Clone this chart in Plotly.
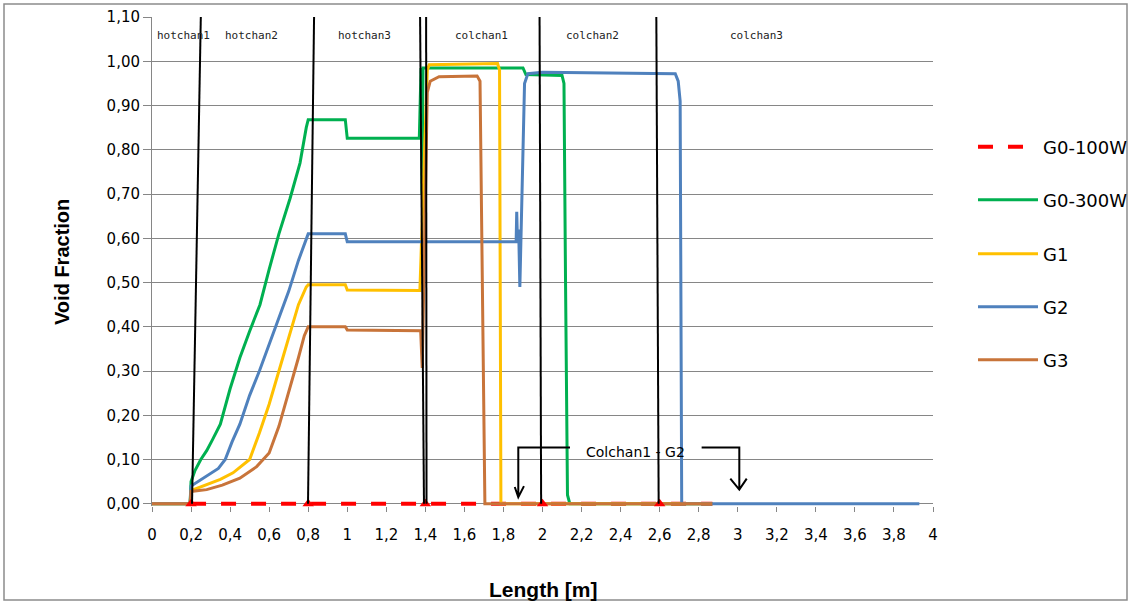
import plotly.graph_objects as go

# ---------------- data ----------------
g0_100_x = [0.2, 2.87]
g0_100_y = [0.0, 0.0]

g0_300_x = [0.0, 0.195, 0.2, 0.22, 0.25, 0.28, 0.31, 0.35, 0.4, 0.45, 0.5, 0.553, 0.6, 0.65, 0.707, 0.758,
            0.79, 0.8, 0.99, 1.0, 1.369, 1.378, 1.383, 1.388, 1.9, 1.915, 2.1, 2.11, 2.118, 2.128, 2.14, 2.87]
g0_300_y = [0.0, 0.0, 0.05, 0.075, 0.10, 0.12, 0.145, 0.18, 0.26, 0.33, 0.39, 0.45, 0.53, 0.61, 0.69, 0.77,
            0.85, 0.868, 0.868, 0.826, 0.826, 0.985, 0.70, 0.985, 0.985, 0.97, 0.968, 0.95, 0.5, 0.02, 0.0, 0.0]

g1_x = [0.0, 0.195, 0.2, 0.28, 0.35, 0.415, 0.46, 0.5, 0.55, 0.6, 0.65, 0.7, 0.75, 0.79, 0.8, 0.99, 1.0,
        1.372, 1.374, 1.41, 1.42, 1.77, 1.78, 1.787, 2.87]
g1_y = [0.0, 0.0, 0.03, 0.043, 0.055, 0.07, 0.085, 0.10, 0.16, 0.225, 0.30, 0.375, 0.45, 0.49, 0.495, 0.495, 0.483,
        0.482, 0.506, 0.98, 0.992, 0.995, 0.98, 0.0, 0.0]

g2_x = [0.0, 0.195, 0.2, 0.25, 0.3, 0.34, 0.375, 0.41, 0.45, 0.5, 0.55, 0.6, 0.65, 0.7, 0.75, 0.79, 0.8, 0.99, 1.0,
        1.865, 1.868, 1.872, 1.878, 1.884, 1.89, 1.9, 1.908, 1.925, 2.0, 2.68, 2.695, 2.705, 2.713, 3.93]
g2_y = [0.0, 0.0, 0.04, 0.055, 0.068, 0.08, 0.10, 0.14, 0.18, 0.245, 0.30, 0.36, 0.42, 0.48, 0.55, 0.60, 0.61, 0.61, 0.592,
        0.592, 0.66, 0.59, 0.62, 0.49, 0.60, 0.85, 0.95, 0.972, 0.975, 0.972, 0.955, 0.91, 0.0, 0.0]

g3_x = [0.0, 0.195, 0.2, 0.28, 0.36, 0.45, 0.536, 0.6, 0.65, 0.7, 0.75, 0.78, 0.8, 0.99, 1.0,
        1.376, 1.384, 1.41, 1.425, 1.47, 1.665, 1.68, 1.705, 2.87]
g3_y = [0.0, 0.0, 0.028, 0.032, 0.042, 0.058, 0.084, 0.115, 0.175, 0.25, 0.33, 0.38, 0.40, 0.40, 0.393,
        0.391, 0.307, 0.93, 0.955, 0.965, 0.967, 0.955, 0.0, 0.0]

marker_x = [0.2, 0.8, 1.4, 2.0, 2.6]
marker_y = [0.0, 0.0, 0.0, 0.0, 0.0]

x_tick_vals = [0, 0.2, 0.4, 0.6, 0.8, 1, 1.2, 1.4, 1.6, 1.8, 2, 2.2, 2.4, 2.6, 2.8, 3, 3.2, 3.4, 3.6, 3.8, 4]
x_tick_text = ["0", "0,2", "0,4", "0,6", "0,8", "1", "1,2", "1,4", "1,6", "1,8", "2", "2,2", "2,4", "2,6",
               "2,8", "3", "3,2", "3,4", "3,6", "3,8", "4"]
y_tick_vals = [0, 0.1, 0.2, 0.3, 0.4, 0.5, 0.6, 0.7, 0.8, 0.9, 1.0, 1.1]
y_tick_text = ["0,00", "0,10", "0,20", "0,30", "0,40", "0,50", "0,60", "0,70", "0,80", "0,90", "1,00", "1,10"]

channel_labels = ["hotchan1", "hotchan2", "hotchan3", "colchan1", "colchan2", "colchan3"]
channel_label_x = [0.015, 0.365, 0.942, 1.540, 2.110, 2.952]

# channel boundary lines (top x, bottom x)
boundary_top_x = [0.250, 0.830, 1.373, 1.404, 1.985, 2.583]
boundary_bottom_x = [0.205, 0.799, 1.393, 1.406, 1.993, 2.595]

series_names = ["G0-100W", "G0-300W", "G1", "G2", "G3"]
series_colors = ["#FF0000", "#00B050", "#FFC000", "#4F81BD", "#C8743A"]

# ---------------- figure ----------------
fig = go.Figure()
all_x = [g0_100_x, g0_300_x, g1_x, g2_x, g3_x]
all_y = [g0_100_y, g0_300_y, g1_y, g2_y, g3_y]
legend_ids = ["legend", "legend2", "legend3", "legend4", "legend5"]
for i, name in enumerate(series_names):
    line = dict(color=series_colors[i], width=3)
    if i == 0:
        line = dict(color=series_colors[i], width=4, dash="15px,15px")
    fig.add_trace(go.Scatter(x=all_x[i], y=all_y[i], mode="lines", name=name, line=line,
                             legend=legend_ids[i], hoverinfo="skip"))

fig.add_trace(go.Scatter(x=marker_x, y=marker_y, mode="markers", showlegend=False,
                         marker=dict(symbol="triangle-up", color="#FF0000", size=10,
                                     line=dict(width=0)),
                         cliponaxis=False, hoverinfo="skip"))

shapes = []
for xt, xb in zip(boundary_top_x, boundary_bottom_x):
    shapes.append(dict(type="line", xref="x", yref="y", x0=xb, y0=0, x1=xt, y1=1.1,
                       line=dict(color="black", width=2), layer="above"))

# bracket for "Colchan1 - G2"
bracket_left = "M 2.141,0.127 L 1.876,0.127 L 1.876,0.015 M 1.858,0.038 L 1.876,0.015 L 1.905,0.040"
bracket_right = "M 2.815,0.127 L 3.008,0.127 L 3.008,0.032 M 2.962,0.057 L 3.008,0.032 L 3.046,0.057"
for p in (bracket_left, bracket_right):
    shapes.append(dict(type="path", xref="x", yref="y", path=p,
                       line=dict(color="black", width=2), layer="above"))

# outer frame
PLOT_L, PLOT_W, PLOT_T, PLOT_H = 152, 781, 17, 489
def px_x(p):
    return (p - PLOT_L) / PLOT_W
def px_y(p):
    return (PLOT_T + PLOT_H - p) / PLOT_H

shapes.append(dict(type="rect", xref="paper", yref="paper",
                   x0=px_x(4), x1=px_x(1127), y0=px_y(600), y1=px_y(4),
                   line=dict(color="#8C8C8C", width=1.5), fillcolor="rgba(0,0,0,0)", layer="below"))

annotations = []
for txt, xl in zip(channel_labels, channel_label_x):
    annotations.append(dict(text=txt, x=xl, y=1.059, xref="x", yref="y", xanchor="left", yanchor="middle",
                            showarrow=False, font=dict(family="DejaVu Sans Mono", size=11, color="#222222")))
annotations.append(dict(text="Colchan1 - G2", x=2.478, y=0.117, xref="x", yref="y", showarrow=False,
                        xanchor="center", yanchor="middle",
                        font=dict(family="DejaVu Sans", size=14, color="black")))
annotations.append(dict(text="Void Fraction", x=px_x(62), y=px_y(262), xref="paper", yref="paper",
                        textangle=-90, showarrow=False, xanchor="center", yanchor="middle",
                        font=dict(family="Liberation Sans", size=20, color="black", weight="bold")))
annotations.append(dict(text="Length [m]", x=px_x(543), y=px_y(589), xref="paper", yref="paper",
                        showarrow=False, xanchor="center", yanchor="middle",
                        font=dict(family="Liberation Sans", size=21, color="black", weight="bold")))

legend_y_px = [147, 200, 254, 307, 360]
legend_common = dict(xanchor="left", yanchor="middle", bgcolor="rgba(0,0,0,0)", itemwidth=60,
                     font=dict(family="DejaVu Sans", size=18, color="black"))
layout_legends = {}
for lid, ypx in zip(legend_ids, legend_y_px):
    layout_legends[lid] = dict(x=px_x(973), y=px_y(ypx), **legend_common)

fig.update_layout(
    width=1131, height=605,
    margin=dict(l=PLOT_L, r=1131 - PLOT_L - PLOT_W, t=PLOT_T, b=605 - PLOT_T - PLOT_H, autoexpand=False),
    paper_bgcolor="white", plot_bgcolor="white",
    showlegend=True,
    shapes=shapes, annotations=annotations,
    xaxis=dict(range=[0, 4], tickvals=x_tick_vals, ticktext=x_tick_text, showgrid=False, zeroline=False,
               showline=False, ticks="outside", ticklen=5, tickcolor="#868686",
               tickfont=dict(family="DejaVu Sans", size=15, color="black"), ticklabelstandoff=10),
    yaxis=dict(range=[-0.005, 1.1001], tickvals=y_tick_vals, ticktext=y_tick_text, showgrid=True,
               gridcolor="#868686", gridwidth=1, zeroline=True, zerolinecolor="#868686", zerolinewidth=1,
               showline=True, linecolor="#868686", linewidth=1, ticks="outside", ticklen=8,
               tickcolor="#868686", tickfont=dict(family="DejaVu Sans", size=15, color="black")),
    **layout_legends,
)

fig.write_html("out.html", config={"displayModeBar": False},
               post_script="document.body.style.margin='0';document.body.style.overflow='hidden';")
